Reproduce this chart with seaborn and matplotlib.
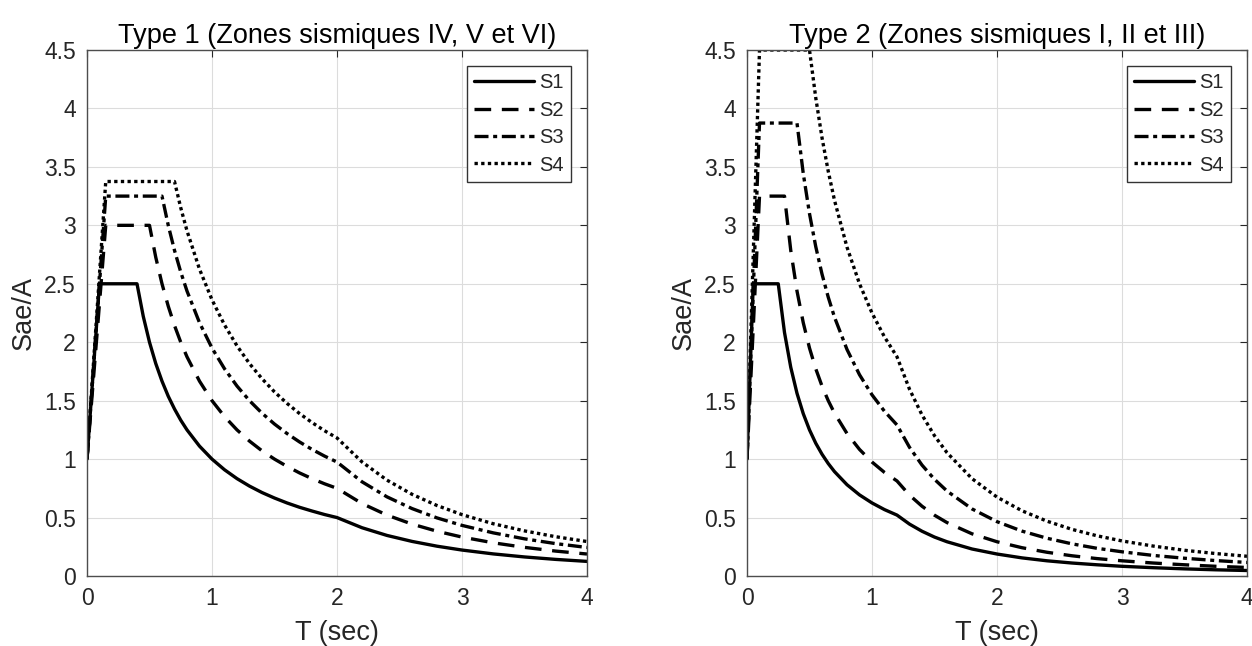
import pandas as pd
import matplotlib
matplotlib.use("Agg")
import matplotlib.pyplot as plt
import seaborn as sns
from matplotlib.ticker import FuncFormatter, MultipleLocator

# periods (sec)
t_type1 = [0, 0.1, 0.15, 0.2, 0.3, 0.4, 0.45, 0.5, 0.55, 0.6, 0.65, 0.7, 0.75, 0.8, 0.9,
           1.0, 1.1, 1.2, 1.3, 1.4, 1.5, 1.6, 1.7, 1.8, 1.9, 2.0, 2.2, 2.4, 2.6, 2.8,
           3.0, 3.25, 3.5, 3.75, 4.0]
t_type2 = [0, 0.05, 0.1, 0.15, 0.2, 0.25, 0.3, 0.35, 0.4, 0.45, 0.5, 0.55, 0.6, 0.65, 0.7,
           0.8, 0.9, 1.0, 1.1, 1.2, 1.3, 1.4, 1.5, 1.6, 1.8, 2.0, 2.2, 2.4, 2.6, 2.8,
           3.0, 3.25, 3.5, 3.75, 4.0]

# Type 1 (Zones sismiques IV, V et VI)
type1_s1 = [1.0, 2.5, 2.5, 2.5, 2.5, 2.5, 2.222, 2.0, 1.818, 1.667, 1.538, 1.429, 1.333, 1.25, 1.111,
            1.0, 0.909, 0.833, 0.769, 0.714, 0.667, 0.625, 0.588, 0.556, 0.526, 0.5, 0.413, 0.347, 0.296, 0.255,
            0.222, 0.189, 0.163, 0.142, 0.125]
type1_s2 = [1.0, 2.333, 3.0, 3.0, 3.0, 3.0, 3.0, 3.0, 2.727, 2.5, 2.308, 2.143, 2.0, 1.875, 1.667,
            1.5, 1.364, 1.25, 1.154, 1.071, 1.0, 0.938, 0.882, 0.833, 0.789, 0.75, 0.62, 0.521, 0.444, 0.383,
            0.333, 0.284, 0.245, 0.213, 0.188]
type1_s3 = [1.0, 2.5, 3.25, 3.25, 3.25, 3.25, 3.25, 3.25, 3.25, 3.25, 3.0, 2.786, 2.6, 2.438, 2.167,
            1.95, 1.773, 1.625, 1.5, 1.393, 1.3, 1.219, 1.147, 1.083, 1.026, 0.975, 0.806, 0.677, 0.577, 0.497,
            0.433, 0.369, 0.318, 0.277, 0.244]
type1_s4 = [1.0, 2.583, 3.375, 3.375, 3.375, 3.375, 3.375, 3.375, 3.375, 3.375, 3.375, 3.375, 3.15, 2.953, 2.625,
            2.363, 2.148, 1.969, 1.817, 1.688, 1.575, 1.477, 1.39, 1.313, 1.243, 1.181, 0.976, 0.82, 0.699, 0.603,
            0.525, 0.447, 0.386, 0.336, 0.295]

# Type 2 (Zones sismiques I, II et III)
type2_s1 = [1.0, 2.5, 2.5, 2.5, 2.5, 2.5, 2.083, 1.786, 1.563, 1.389, 1.25, 1.136, 1.042, 0.962, 0.893,
            0.781, 0.694, 0.625, 0.568, 0.521, 0.444, 0.383, 0.333, 0.293, 0.231, 0.188, 0.155, 0.13, 0.111, 0.096,
            0.083, 0.071, 0.061, 0.053, 0.047]
type2_s2 = [1.0, 2.125, 3.25, 3.25, 3.25, 3.25, 3.25, 2.786, 2.438, 2.167, 1.95, 1.773, 1.625, 1.5, 1.393,
            1.219, 1.083, 0.975, 0.886, 0.813, 0.692, 0.597, 0.52, 0.457, 0.361, 0.293, 0.242, 0.203, 0.173, 0.149,
            0.13, 0.111, 0.096, 0.083, 0.073]
type2_s3 = [1.0, 2.438, 3.875, 3.875, 3.875, 3.875, 3.875, 3.875, 3.875, 3.444, 3.1, 2.818, 2.583, 2.385, 2.214,
            1.938, 1.722, 1.55, 1.409, 1.292, 1.101, 0.949, 0.827, 0.727, 0.574, 0.465, 0.384, 0.323, 0.275, 0.237,
            0.207, 0.176, 0.152, 0.132, 0.116]
type2_s4 = [1.0, 2.75, 4.5, 4.5, 4.5, 4.5, 4.5, 4.5, 4.5, 4.5, 4.5, 4.091, 3.75, 3.462, 3.214,
            2.813, 2.5, 2.25, 2.045, 1.875, 1.598, 1.378, 1.2, 1.055, 0.833, 0.675, 0.558, 0.469, 0.399, 0.344,
            0.3, 0.256, 0.22, 0.192, 0.169]

sites = ['S1', 'S2', 'S3', 'S4']
titles = ['Type 1 (Zones sismiques IV, V et VI)', 'Type 2 (Zones sismiques I, II et III)']


def long_table(t, series):
    rows = []
    for name, vals in zip(sites, series):
        for x, y in zip(t, vals):
            rows.append({'T': x, 'Sae/A': y, 'Site': name})
    return pd.DataFrame(rows)


df1 = long_table(t_type1, [type1_s1, type1_s2, type1_s3, type1_s4])
df2 = long_table(t_type2, [type2_s1, type2_s2, type2_s3, type2_s4])

sns.set_style("whitegrid")
plt.rcParams['font.family'] = ['Liberation Sans', 'DejaVu Sans']

dash_styles = {'S1': '', 'S2': (5, 3.2), 'S3': (4.2, 1.4, 1.2, 1.4), 'S4': (1, 1)}
txt = '#262626'

fig = plt.figure(figsize=(12.52, 6.46), dpi=100)
ax1 = fig.add_axes([87 / 1252, 70 / 646, 500 / 1252, 526 / 646])
ax2 = fig.add_axes([747 / 1252, 70 / 646, 500 / 1252, 526 / 646])

for ax, df, title in [(ax1, df1, titles[0]), (ax2, df2, titles[1])]:
    sns.lineplot(data=df, x='T', y='Sae/A', style='Site', dashes=dash_styles,
                 color='black', linewidth=2.4, estimator=None, sort=False, ax=ax)
    ax.set_xlim(0, 4)
    ax.set_ylim(0, 4.5)
    ax.xaxis.set_major_locator(MultipleLocator(1))
    ax.yaxis.set_major_locator(MultipleLocator(0.5))
    ax.yaxis.set_major_formatter(FuncFormatter(lambda v, p: f'{v:g}'))
    ax.grid(True, color='#dcdcdc', linewidth=0.8)
    ax.tick_params(direction='in', length=5, width=0.8, top=True, right=True,
                   labelsize=16.5, colors=txt, pad=8)
    for s in ax.spines.values():
        s.set_color('#4d4d4d')
        s.set_linewidth(1.0)
    ax.set_xlabel('T (sec)', fontsize=19.5, color=txt, labelpad=7)
    ax.set_ylabel('Sae/A', fontsize=19.5, color=txt, labelpad=5)
    ax.set_title(title, fontsize=19.5, color='black', pad=5)
    leg = ax.legend(loc='upper right', fontsize=14.5, frameon=True, fancybox=False,
                    handlelength=3.0, handletextpad=0.25, borderpad=0.35,
                    labelspacing=0.42, borderaxespad=0.8)
    leg.get_frame().set_edgecolor('#333333')
    leg.get_frame().set_linewidth(1.0)
    leg.get_frame().set_alpha(1)

fig.savefig('out.png', dpi=100)
